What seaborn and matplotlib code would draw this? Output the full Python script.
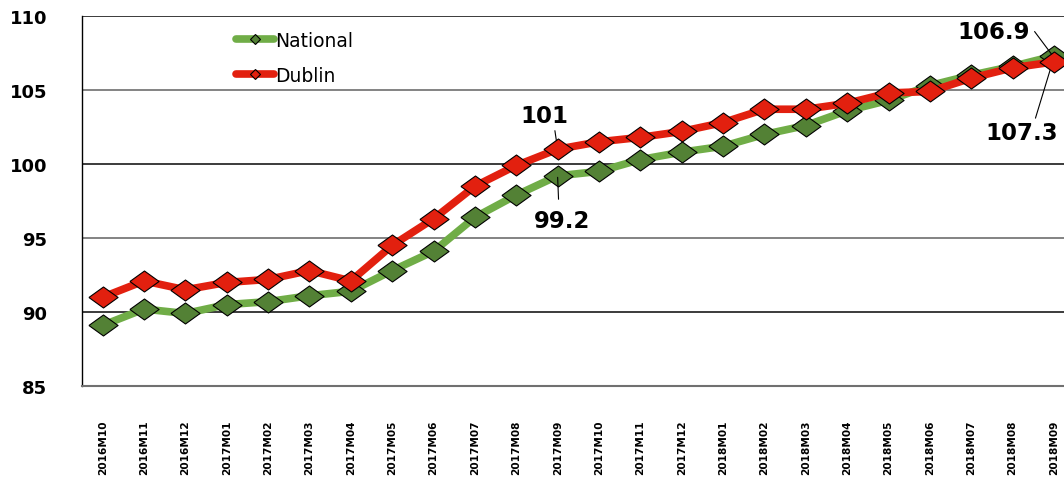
import matplotlib
matplotlib.use("Agg")
import matplotlib.pyplot as plt
import seaborn as sns
import pandas as pd
from matplotlib.lines import Line2D

# monthly index values
months = ['2016M10', '2016M11', '2016M12', '2017M01', '2017M02', '2017M03',
          '2017M04', '2017M05', '2017M06', '2017M07', '2017M08', '2017M09',
          '2017M10', '2017M11', '2017M12', '2018M01', '2018M02', '2018M03',
          '2018M04', '2018M05', '2018M06', '2018M07', '2018M08', '2018M09']
national = [89.1, 90.2, 89.9, 90.5, 90.7, 91.1, 91.4, 92.8, 94.1, 96.4, 97.9, 99.2,
            99.5, 100.3, 100.8, 101.2, 102.0, 102.6, 103.6, 104.3, 105.3, 106.0, 106.6, 107.3]
dublin = [91.0, 92.1, 91.5, 92.0, 92.2, 92.8, 92.1, 94.5, 96.3, 98.5, 99.9, 101.0,
          101.5, 101.8, 102.2, 102.8, 103.7, 103.7, 104.1, 104.8, 104.9, 105.8, 106.5, 106.9]
yticks = [85, 90, 95, 100, 105, 110]

GREEN_LINE = '#70AD47'
GREEN_MARK = '#538135'
RED = '#E2200F'

df = pd.DataFrame({'month': months, 'National': national, 'Dublin': dublin})
df['idx'] = range(len(months))

sns.set_style('white')
plt.rcParams['font.family'] = ['DejaVu Sans']
plt.rcParams['text.color'] = 'black'
plt.rcParams['xtick.color'] = 'black'
plt.rcParams['ytick.color'] = 'black'

fig = plt.figure(figsize=(10.64, 4.81), dpi=100)
ax = fig.add_axes([82 / 1064, 1 - 387 / 481, (24 * 41.36) / 1064, 370 / 481])

diamond = [(-1, 0), (0, 0.72), (1, 0), (0, -0.72), (-1, 0)]

sns.lineplot(data=df, x='idx', y='National', ax=ax, color=GREEN_LINE, lw=5.5,
             marker=diamond, markersize=21, markerfacecolor=GREEN_MARK,
             markeredgecolor='black', markeredgewidth=0.8, zorder=3)
sns.lineplot(data=df, x='idx', y='Dublin', ax=ax, color=RED, lw=5.5,
             marker=diamond, markersize=21, markerfacecolor=RED,
             markeredgecolor='black', markeredgewidth=0.8, zorder=4)

ax.set_xlim(-0.5, len(months) - 0.5)
ax.set_ylim(85, 110)
ax.set_yticks(yticks)
ax.set_yticklabels([str(v) for v in yticks], fontsize=13, fontweight='bold')
ax.set_xticks(df['idx'])
ax.set_xticklabels(months, rotation=90, fontsize=7.6, fontweight='bold')
ax.tick_params(axis='y', length=0, pad=25)
ax.tick_params(axis='x', length=0, pad=24)
ax.set_xlabel('')
ax.set_ylabel('')

for v in yticks[1:]:
    c = '#1a1a1a' if v % 10 == 0 else '#6e6e6e'
    ax.axhline(v, color=c, lw=1.2, zorder=1)
for s in ['top', 'right']:
    ax.spines[s].set_visible(False)
ax.spines['left'].set_color('black')
ax.spines['left'].set_linewidth(1)
ax.spines['bottom'].set_color('#707070')
ax.spines['bottom'].set_linewidth(1.5)

# data labels with leader lines
def label(text, xy, xytext, relpos, shrink=0):
    ax.annotate(text, xy=xy, xytext=xytext, fontsize=16.5, fontweight='bold',
                ha='center', va='center',
                arrowprops=dict(arrowstyle='-', color='black', lw=0.8, relpos=relpos,
                                shrinkA=shrink, shrinkB=0))

label('101', (11, dublin[11]), (10.69, 103.25), (0.7, 0.0))
label('99.2', (11, national[11] - 0.1), (11.1, 96.15), (0.45, 1.0), shrink=5)
label('106.9', (23, dublin[23] + 0.3), (21.55, 108.95), (1.06, 0.5))
label('107.3', (23, national[23] - 0.1), (22.23, 102.1), (0.67, 1.0))

handles = [
    Line2D([0], [0], color=GREEN_LINE, lw=5.5, marker='D', markersize=5,
           markerfacecolor=GREEN_MARK, markeredgecolor='black', markeredgewidth=0.8,
           solid_capstyle='round'),
    Line2D([0], [0], color=RED, lw=5.5, marker='D', markersize=5,
           markerfacecolor=RED, markeredgecolor='black', markeredgewidth=0.8,
           solid_capstyle='round'),
]
fig.legend(handles, ['National', 'Dublin'], loc='upper left',
           bbox_to_anchor=(236 / 1064, 1 - 32 / 481), frameon=False,
           fontsize=13.5, handlelength=2.0, handletextpad=0.1,
           labelspacing=0.85, borderpad=0, borderaxespad=0)

fig.savefig('out.png', dpi=100)
